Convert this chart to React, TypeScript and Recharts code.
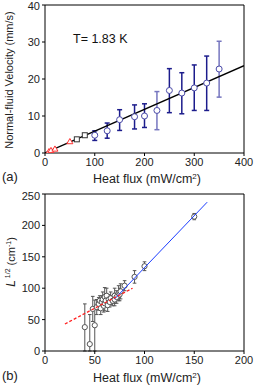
import React from 'react';
import { ScatterChart, Scatter, XAxis, YAxis, ErrorBar } from 'recharts';

// panel (a): normal-fluid velocity vs heat flux
const triX = [8, 12, 20, 50];
const triY = [0.4, 0.7, 1.1, 3.1];
const sqX = [64, 80];
const sqY = [3.7, 4.8];
const circX = [100, 125, 150, 180, 200, 225, 250, 275, 300, 325, 350];
const circY = [4.8, 6.0, 9.0, 9.8, 10.0, 11.5, 16.9, 16.2, 17.6, 18.9, 22.7];
const circLo = [1.4, 2.0, 2.9, 3.3, 3.1, 5.2, 6.0, 5.6, 6.1, 7.4, 7.6];
const circHi = [1.2, 2.1, 2.7, 3.2, 3.3, 5.1, 5.9, 5.5, 6.2, 7.3, 7.5];
const circLight = [false, false, false, false, false, true, false, false, false, false, true];
const fitAX = [0, 400];
const fitAY = [0, 23.6];

// panel (b): L^1/2 vs heat flux
const bX = [40, 45, 50, 48, 52, 54, 55, 56, 57, 58, 59, 60, 60, 61, 62, 63, 64, 65, 66, 68, 70, 70, 72, 74, 75, 76, 80, 90, 100, 150];
const bY = [38, 11, 41, 67, 70, 75, 80, 68, 78, 82, 72, 86, 76, 80, 88, 73, 82, 78, 84, 80, 88, 82, 86, 92, 90, 95, 104, 118, 135, 214];
const bLo = [38, 11, 41, 20, 12, 10, 8, 10, 10, 12, 10, 15, 12, 10, 12, 10, 8, 8, 10, 8, 12, 10, 10, 12, 10, 12, 8, 10, 7, 5];
const bHi = [37, 47, 40, 20, 12, 10, 8, 10, 10, 12, 10, 15, 12, 10, 12, 10, 8, 8, 10, 8, 12, 10, 10, 12, 10, 12, 8, 10, 7, 5];
const blueFitX = [70, 163];
const blueFitY = [83, 237];
const redFitX = [20, 88];
const redFitY = [43, 100];

const FONT = '"Liberation Sans", Arial, sans-serif';
const tickStyle = { fontSize: 11, fill: '#222', fontFamily: FONT };

const pts = (xs: number[], ys: number[]) => xs.map((x, i) => ({ x, y: ys[i] }));

const triData = pts(triX, triY);
const sqData = pts(sqX, sqY);
const circRows = circX.map((x, i) => ({ x, y: circY[i], err: [circLo[i], circHi[i]], light: circLight[i] }));
const circDark = circRows.filter((r) => !r.light);
const circPale = circRows.filter((r) => r.light);
const fitA = pts(fitAX, fitAY);

const bRows = bX.map((x, i) => ({ x, y: bY[i], err: [bLo[i], bHi[i]] }));
const blueFit = pts(blueFitX, blueFitY);
const redFit = pts(redFitX, redFitY);

const Triangle = (p: any) => (
  <polygon
    points={`${p.cx},${p.cy - 3} ${p.cx - 3},${p.cy + 2.2} ${p.cx + 3},${p.cy + 2.2}`}
    fill="#fff"
    stroke="#ff3030"
    strokeWidth={1}
  />
);
const Square = (p: any) => (
  <rect x={p.cx - 2.5} y={p.cy - 2.5} width={5} height={5} fill="#fff" stroke="#333" strokeWidth={1} />
);
const BlueCircle = (p: any) => <circle cx={p.cx} cy={p.cy} r={3} fill="#fff" stroke="#4a4aa8" strokeWidth={1} />;
const GreyCircle = (p: any) => <circle cx={p.cx} cy={p.cy} r={2.6} fill="#fff" stroke="#555" strokeWidth={1} />;
const NoDot = () => <g />;

export default function App() {
  return (
    <div style={{ position: 'absolute', left: 0, top: 0, width: 254, height: 390, fontFamily: FONT, background: '#fff' }}>
      {/* panel (a) */}
      <div style={{ position: 'absolute', left: 0, top: 0 }}>
        <ScatterChart width={254} height={190} margin={{ top: 5, right: 10, bottom: 22, left: 15 }}>
          <XAxis
            type="number"
            dataKey="x"
            domain={[0, 400]}
            ticks={[0, 100, 200, 300, 400]}
            tick={tickStyle}
            tickSize={3}
            height={15}
            stroke="#000"
            allowDataOverflow
            label={{
              content: () => (
                <text x={147} y={183} textAnchor="middle" fontSize={12.5} fill="#222" fontFamily={FONT}>
                  Heat flux (mW/cm<tspan dy={-4} fontSize={8}>2</tspan><tspan dy={4}>)</tspan>
                </text>
              ),
            }}
          />
          <XAxis xAxisId="top" orientation="top" type="number" domain={[0, 400]} ticks={[0, 50, 100, 150, 200, 250, 300, 350, 400]} tickFormatter={() => ''} mirror tickSize={3} stroke="#000" />
          <YAxis
            type="number"
            dataKey="y"
            domain={[0, 40]}
            ticks={[0, 10, 20, 30, 40]}
            tick={tickStyle}
            tickSize={3}
            width={30}
            stroke="#000"
            allowDataOverflow
            label={{
              content: () => (
                <text x={13} y={80} transform="rotate(-90 13 80)" textAnchor="middle" fontSize={11} fill="#222" fontFamily={FONT}>
                  Normal-fluid Velocity (mm/s)
                </text>
              ),
            }}
          />
          <YAxis yAxisId="right" orientation="right" type="number" domain={[0, 40]} ticks={[0, 10, 20, 30, 40]} tickFormatter={() => ''} mirror tickSize={3} stroke="#000" />
          <Scatter data={fitA} line={{ stroke: '#000', strokeWidth: 1.3 }} shape={NoDot} isAnimationActive={false} />
          <Scatter data={circDark} shape={BlueCircle} isAnimationActive={false}>
            <ErrorBar dataKey="err" direction="y" width={2.5} stroke="#1c1c8c" strokeWidth={1.5} isAnimationActive={false} />
          </Scatter>
          <Scatter data={circPale} shape={BlueCircle} isAnimationActive={false}>
            <ErrorBar dataKey="err" direction="y" width={2.5} stroke="#7676bf" strokeWidth={1.5} isAnimationActive={false} />
          </Scatter>
          <Scatter data={sqData} shape={Square} isAnimationActive={false} />
          <Scatter data={triData} shape={Triangle} isAnimationActive={false} />
        </ScatterChart>
        <div style={{ position: 'absolute', left: 73, top: 32, fontSize: 12.5, color: '#111', whiteSpace: 'nowrap' }}>T= 1.83 K</div>
        <div style={{ position: 'absolute', left: 2, top: 169, fontSize: 13, color: '#222' }}>(a)</div>
      </div>

      {/* panel (b) */}
      <div style={{ position: 'absolute', left: 0, top: 190 }}>
        <ScatterChart width={254} height={200} margin={{ top: 4, right: 10, bottom: 24, left: 15 }}>
          <XAxis
            type="number"
            dataKey="x"
            domain={[0, 200]}
            ticks={[0, 50, 100, 150, 200]}
            tick={tickStyle}
            tickSize={3}
            height={15}
            stroke="#000"
            allowDataOverflow
            label={{
              content: () => (
                <text x={147} y={192} textAnchor="middle" fontSize={12.5} fill="#222" fontFamily={FONT}>
                  Heat flux (mW/cm<tspan dy={-4} fontSize={8}>2</tspan><tspan dy={4}>)</tspan>
                </text>
              ),
            }}
          />
          <XAxis xAxisId="top" orientation="top" type="number" domain={[0, 200]} ticks={[0, 50, 100, 150, 200]} tickFormatter={() => ''} mirror tickSize={3} stroke="#000" />
          <YAxis
            type="number"
            dataKey="y"
            domain={[0, 250]}
            ticks={[0, 50, 100, 150, 200, 250]}
            tick={tickStyle}
            tickSize={3}
            width={30}
            stroke="#000"
            allowDataOverflow
            label={{
              content: () => (
                <text x={15} y={72} transform="rotate(-90 15 72)" textAnchor="middle" fontSize={11} fill="#222" fontFamily={FONT}>
                  <tspan fontStyle="italic" fontSize={12}>L</tspan>
                  <tspan dy={-5} fontSize={7}> 1/2</tspan>
                  <tspan dy={5}>  (cm</tspan>
                  <tspan dy={-4} fontSize={7}>-1</tspan>
                  <tspan dy={4}>)</tspan>
                </text>
              ),
            }}
          />
          <YAxis yAxisId="right" orientation="right" type="number" domain={[0, 250]} ticks={[0, 50, 100, 150, 200, 250]} tickFormatter={() => ''} mirror tickSize={3} stroke="#000" />
          <Scatter data={bRows} shape={GreyCircle} isAnimationActive={false}>
            <ErrorBar dataKey="err" direction="y" width={1.8} stroke="#555" strokeWidth={1} isAnimationActive={false} />
          </Scatter>
          <Scatter data={blueFit} line={{ stroke: '#1a3cff', strokeWidth: 1 }} shape={NoDot} isAnimationActive={false} />
          <Scatter data={redFit} line={{ stroke: '#ff2020', strokeWidth: 1.3, strokeDasharray: '3 2' }} shape={NoDot} isAnimationActive={false} />
        </ScatterChart>
        <div style={{ position: 'absolute', left: 2, top: 178, fontSize: 13, color: '#222' }}>(b)</div>
      </div>
    </div>
  );
}
